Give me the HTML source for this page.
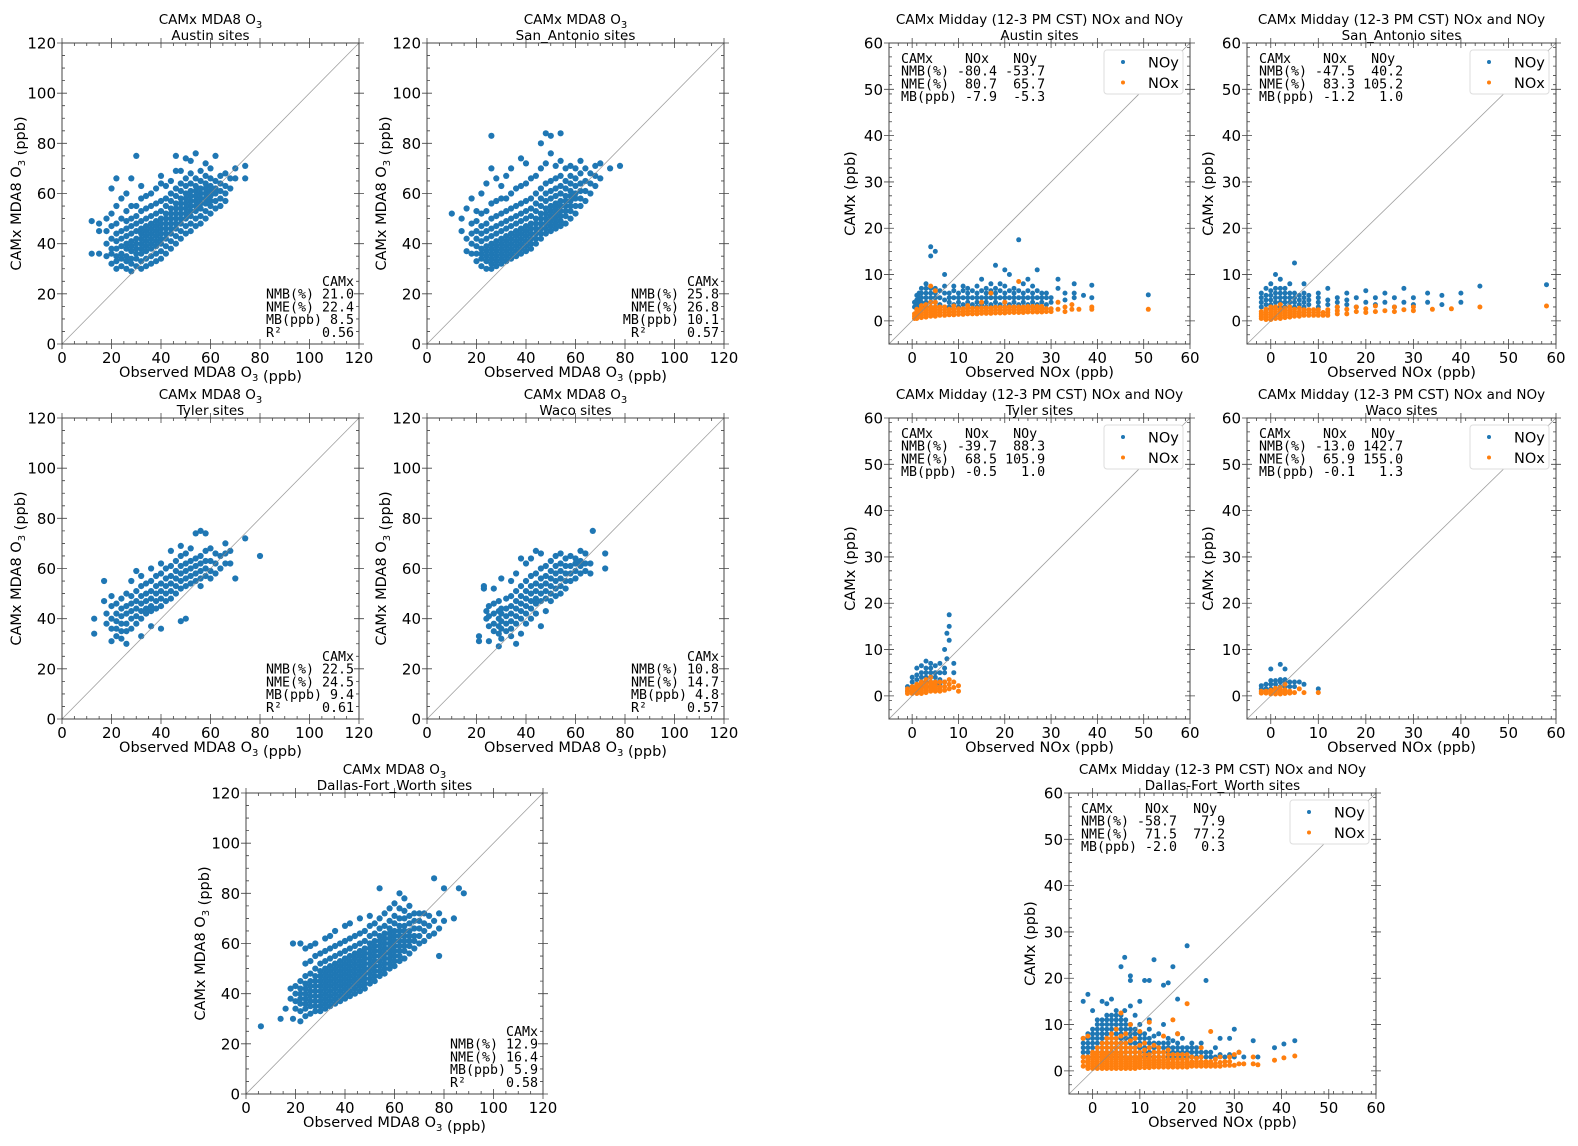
<!DOCTYPE html>
<html><head><meta charset="utf-8">
<style>
html,body{margin:0;padding:0;background:#fff;}
svg{display:block;}
text{font-family:"DejaVu Sans","Liberation Sans",sans-serif;fill:#000;}
.mono{font-family:"DejaVu Sans Mono","Liberation Mono",monospace;white-space:pre;}
</style></head>
<body>
<svg id="fig" width="1578" height="1146" viewBox="0 0 1578 1146" xmlns="http://www.w3.org/2000/svg"></svg>
<script>
// ---- Data: rows "x:y1,y2,...;" (observed x, CAMx y values) ----
const o3Austin = "12:36,49;15:36,45,48;18:35,40,45,50;20:32,36,38,42,47,52,62;22:30,33,35,38,41,44,48,55,66;24:31,34,36,39,42,45,50,58;26:30,33,35,38,40,43,46,49,53,60;28:29,32,34,37,39,41,44,47,50,55,66;30:31,34,36,38,40,42,45,48,51,55,75;32:30,33,36,38,40,42,44,46,49,53,58,63;34:31,34,37,39,41,43,45,47,50,54,59;36:32,35,38,40,42,44,46,48,51,55,60;38:33,36,39,41,43,45,47,49,52,56,62;40:34,37,40,42,44,46,48,50,53,57,64,67;42:36,39,42,44,46,48,50,52,55,58,63;44:38,41,44,46,48,50,52,54,57,60,65;46:40,43,46,48,50,52,54,56,59,62,69,75;48:42,45,48,50,52,54,56,58,61,64,69;50:44,47,50,52,54,56,58,60,63,66,74;52:45,48,51,53,55,57,59,61,64,68,73;54:47,50,53,55,57,59,61,63,66,76;56:48,51,54,56,58,60,62,65,69;58:50,53,56,58,60,62,64,67,72;60:52,55,57,59,61,63,66,70;62:54,57,60,62,65,75;64:55,58,61,64,67;66:57,60,63,68;68:62,66;70:66,70;74:66,71";
const o3SanAntonio = "10:52;14:45,50;16:37,42,54;18:36,40,44,48,58;20:33,36,39,42,45,49,53;22:31,34,36,38,41,44,47,52,60;24:30,33,35,37,39,42,45,48,53,64;26:30,32,34,36,38,40,43,46,50,56,70,83;28:31,33,35,37,39,41,44,47,51,57,66;30:32,34,36,38,40,42,45,48,52,58,63;32:33,35,37,39,41,43,46,49,53,58,67;34:34,36,38,40,42,44,47,50,54,60,70;36:35,37,39,41,43,45,48,51,55,62;38:36,38,40,42,44,46,49,52,56,63,74;40:37,39,41,43,45,47,50,53,57,64,72;42:38,40,42,44,46,48,51,54,58,66;44:40,42,44,46,48,50,53,56,60,67;46:42,44,46,48,50,52,55,58,62,70,80;48:44,46,48,50,52,54,57,60,64,72,84;50:45,47,49,51,53,55,58,61,65,76,83;52:46,48,50,52,54,56,59,62,66,71;54:47,49,51,53,55,57,60,63,67,73,84;56:48,51,53,55,57,59,62,65,70;58:50,53,55,57,59,61,64,67,71;60:52,55,58,60,63,66,70;62:55,58,61,64,68,73;64:57,61,65,70;66:60,64,68;68:63,67,71;70:66,72;74:70;78:71";
const o3Tyler = "13:34,40;17:47,55;18:38,42;20:31,36,40,45,49;22:33,36,39,42,46;24:32,35,38,41,44,48;26:30,35,38,42,45,50;28:36,40,43,46,49,55;30:38,41,44,47,51,59;32:33,40,43,46,49,53,57;34:42,44,47,50,54;36:37,43,45,48,51,55,60;38:44,47,50,53,57;40:36,45,48,51,54,58,62;42:47,50,53,56,60;44:48,51,54,57,61,67;46:50,53,56,59,63;48:39,52,55,58,61,65,69;50:40,53,56,59,62,66;52:54,57,60,63,68;54:55,58,61,64,74;56:53,56,59,62,65,75;58:57,60,63,67,74;60:56,59,63,68;62:58,62,66;64:60,65;66:62,66,70;68:62,67;70:56;74:72;80:65";
const o3Waco = "21:31,33;23:52,53;24:40,43;25:31,37,41,45;27:35,38,42,46,52;29:29,34,37,40,43,47;30:32,36,39,42,44,56;32:35,38,41,44,48;34:33,36,39,42,45,49,55;36:30,38,41,44,47,51,58;38:34,40,43,46,49,53,64;40:38,42,45,48,51,55,62;42:40,44,47,50,53,57,64;44:42,46,48,51,54,58,67;46:37,47,50,53,56,60,66;48:43,48,51,54,57,61;50:47,50,53,56,59,63;52:49,52,55,58,61,65;54:50,53,56,59,62,66;56:52,55,58,61,64;58:55,58,61,65;60:56,59,62,64;62:58,61,63,67;64:59,62,66;66:58,62;67:75;72:60,66";
const o3Dallas = "6:27;14:30;16:34;18:38,42;19:30,60;20:34,37,40,43;22:29,33,36,38,40,42,45,60;24:31,34,36,38,40,42,44,47,52,58;26:32,35,37,39,41,43,45,48,53,59;28:33,35,37,39,41,43,45,47,50,55,60;30:33,35,37,39,41,43,45,47,49,52,56;32:34,36,38,40,42,44,46,48,50,53,57,62;34:35,37,39,41,43,45,47,49,51,54,58,63;36:36,38,40,42,44,46,48,50,52,55,59,65;38:37,39,41,43,45,47,49,51,53,56,60;40:38,40,42,44,46,48,50,52,54,57,61,67;42:39,41,43,45,47,49,51,53,55,58,62,68;44:40,42,44,46,48,50,52,54,56,59,63;46:41,43,45,47,49,51,53,55,57,60,64,70;48:42,44,46,48,50,52,54,56,58,61,65;50:44,46,48,50,52,54,56,58,60,63,67,71;52:45,47,49,51,53,55,57,59,61,64,68;54:47,49,51,53,55,57,59,61,63,66,70,82;56:48,50,52,54,56,58,60,62,64,67,72;58:50,52,54,56,58,60,62,64,66,69,74;60:51,53,55,57,59,61,63,65,68,71,76;62:53,55,57,59,61,63,65,67,70,74,80;64:54,57,59,61,63,65,67,70,73,78;66:56,59,61,63,65,68,71,75;68:58,61,63,66,69,72;70:60,63,66,69,72;72:61,65,68,72;74:63,67,71;76:64,69,86;78:55,66,72;80:69,82;84:70;86:82;88:80";

const noyAustin = "0.5:3,4;1:2.5,3.5,4.5,5.5;1.5:3,4,5,6;2:3,4,5,6,7;3:3,4,5,6,7,8;4:3,4,5,6,7,14,16;5:3,4,5,6,7,15;6:3.5,5,6.5;7:3,4.5,6,7.5,10;8:3,4,5,6;9:3.5,5,6.5,7.5;10:3,4,5,6;11:3.5,5,6.5,7.5;12:3,4,5,6,7;13:3.5,5,6.5;14:3,4,5,6,7.5;15:3.5,5,6.5,9;16:3,4,5,6,7;17:3.5,5,6.5,8;18:3,4,5,6,7,12;19:3.5,5,6.5,8;20:3,4,5,6,7.5,11;21:3.5,5,6.5,10;22:3,4,5,6,7;23:3.5,5,6.5,17.5;24:3,4,5,6,8;25:3.5,5,6.5,9;26:3,4,5,6,7.5;27:3.5,5,6.5,11;28:3,4,5,6;29:3.5,5,6;30:4,5;31.5:7,9;33:4.5,6;35:5,6,8;37:5.5;38.8:5,7.7;51:5.6";
const noxAustin = "0.5:0.5,1,1.5;1:0.5,1,1.5,2,2.5;2:0.7,1.2,1.7,2.2,2.8,3.3;3:0.8,1.3,1.8,2.3,2.8,3.5;4:1,1.5,2,2.5,3,4,7.5;5:1,1.5,2,2.5,3,4,6.5;6:1.2,1.8,2.4,3;7:1.2,1.8,2.4,3;8:1.3,1.9,2.5;9:1.3,1.9,2.5,3.2;10:1.4,2,2.6;11:1.4,2,2.6;12:1.5,2.1,2.7,3.3;13:1.5,2.1,2.7;14:1.5,2.1,2.7;15:1.6,2.2,2.8,4;16:1.6,2.2,2.8;17:1.6,2.2,2.8,6;18:1.7,2.3,2.9;19:1.7,2.3,2.9;20:1.7,2.3,2.9,4;21:1.8,2.4,3;22:1.8,2.4,3;23:1.8,2.4,3,8.5;24:1.8,2.4,3;25:1.9,2.5,3.1;26:1.9,2.5,3.1;27:1.9,2.5,3.1;28:1.9,2.5,3.1;29:2,2.6;30:2,2.6;31.5:2.5,4;33:2,3;34.5:2.5,3.5;36:2.5;38.8:2.5,3;51:2.5";
const noySanAntonio = "-2:3,4,5,6;-1:2.5,3.5,4.5,5.5,7;0:2.5,3.5,4.5,5.5,6.5,8;1:3,4,5,6,7,10;2:3,4,5,6,7,9;3:3,4,5,6,7;4:3,4,5,6,8;5:3,4,5,6,12.5;6:3.5,4.5,5.5;7:3,4,5,6,8;8:3.5,4.5,5.5;10:3,4,5,6;12:3.5,4.5,7;14:3,4,5;16:3.5,4.5,6;18:3,5;20:4,6.5;22:3.5,5;24:4,6;26:3,5;28:4,7;30:3.5,5;33:4,6;36:3.5,5.5;40:4,6;44:7.5;58:7.8";
const noxSanAntonio = "-2:0.5,1,1.5,2;-1:0.3,0.8,1.3,1.8,2.5;0:0.3,0.8,1.3,1.8,2.3,3;1:0.5,1,1.5,2,2.5,3;2:0.5,1,1.5,2,2.5,3.5;3:0.7,1.2,1.7,2.2,2.7;4:0.8,1.3,1.8,2.3,3;5:1,1.5,2,2.5;6:1,1.5,2,2.7;7:1.2,1.8,2.4;8:1.2,1.8,2.4;9:1.2,1.8,2.4;10:1.2,1.8,2.4;11:1.2,1.8;12:1.2,1.8,2.4;14:1.5,2.2,3;16:1.5,2.5;18:2,3;20:1.8,2.6;22:2,3.2;24:2.2;26:2,3;28:2.4;30:2.2,3;34:2.5;38:2.6;44:3;58:3.2";
const noyTyler = "-1:1,2;0:1,2,3,4;1:1.5,2.5,3.5,4.5,6;2:2,3,4,5,6.5;3:2,3,4,5,6,7.5;4:2,3,4,5,6,7;5:2,3,4,5,6.5;6:2.5,3.5,5,7;7:3,5,6,10;7.5:8,13.5;8:15,17.5,12;9:5,7";
const noxTyler = "-1:0.5,1,1.5;0:0.5,1,1.5,2;1:0.5,1,1.5,2,2.5;2:0.5,1,1.5,2,2.5,3;3:0.7,1.2,1.7,2.2,2.7,3.5;4:1,1.5,2,2.5,3,4;5:1,1.5,2,2.5,3;6:1,1.5,2,3;7:1.2,2,3;8:1.5,2.5,3.5;9:1.8,3;10:2.2,1";
const noyWaco = "-2:1.5,2.2;-1:1.5,2.5;0:1.5,2.5,3.3,5.8;1:1.5,2.5,3.3;2:2,3,3.5,6.8;3:2,3,3.5,5.8;4:2,3;5:2,3;6:3;7:2.5;10:1.5";
const noxWaco = "-2:0.6,1;-1:0.6,1;0:0.4,0.8,1.2;1:0.4,0.8,1.2,1.6;2:0.4,0.8,1.2,1.8;3:0.5,0.9,1.3,2.5;4:0.6,1;5:0.7;6:1.5;7:0.7;10:0.7";
const noyDallas = "-2:3,4,5,6,7,15;-1:3,4,5,6,7,8,16.5;0:3,4,5,6,7,8,9,13;1:3,4,5,6,7,8,9,10,11;2:3,4,5,6,7,8,9,10,11,15;3:3,4,5,6,7,8,9,10,11,12,14.5;4:3,4,5,6,7,8,9,10,11,12,15.5;5:3,4,5,6,7,8,9,10,11,12,13;6:3,4,5,6,7,8,9,10,11,12,22.5;6.8:24.5,13;7:3,4,5,6,7,8,9,10,11;8:3,4,5,6,7,8,9,10,14,20.5,19.5;9:3,4,5,6,7,8,9,12;10:3,4,5,6,7,8,10,15;11:3,4,5,6,7,8,19.5;12:3,4,5,6,7,9,19.5,11;13:3,4,5,6,7.5,24;14:3,4,5,6,8;15:3,4,5,6,18.5,10;16:3,4,5,6,7,19;17:3,4,5,6.5,22.5;18:3,4,5,6,8,15.5;19:3,4,5,7;20:3,4,5,27;21:3,4,5,6;22:3,4,5;23:3,4,6;24:3,4,19.5;25:3,4;26:3,5;27:3.5,7;28:3;29:3.5,7;30:3,9;31:4;32:3;34:6.5;35:3;38.5:5;40.5:5.8;42.8:6.5";
const noxDallas = "-2:1,2,3,7;-1:0.5,1,1.5,2,2.5,3,7.5;0:0.5,1,1.5,2,2.5,3,3.5,4;1:0.5,1,1.5,2,2.5,3,3.5,4,5;2:0.5,1,1.5,2,2.5,3,3.5,4,5,6;3:0.5,1,1.5,2,2.5,3,3.5,4,5,6,7;4:0.5,1,1.5,2,2.5,3,3.5,4,5,6,7,8;5:0.5,1,1.5,2,2.5,3,3.5,4,5,6,7,9;6:0.5,1,1.5,2,2.5,3,3.5,4,5,6,7.5,12.5;7:0.5,1,1.5,2,2.5,3,4,5,6,8;8:0.5,1,1.5,2,2.5,3,4,5,6.5,10;9:0.5,1,1.5,2,2.5,3,4,5,7;10:0.7,1.2,1.7,2.2,2.7,3.2,4,5.5,8.5;11:0.7,1.2,1.7,2.2,2.7,3.5,4.5,6;12:0.7,1.2,1.7,2.2,2.7,3.5,5,10.5;13:0.8,1.3,1.8,2.3,3,4,5.5;14:0.8,1.3,1.8,2.3,3,4,5;15:0.8,1.3,1.8,2.3,3,4,7.5;16:0.8,1.3,1.8,2.5,3.5,4.5;17:0.8,1.3,1.8,2.5,3.5,11;18:0.8,1.3,1.8,2.5,3.5,8;19:0.8,1.3,1.8,2.5,3.5;20:0.8,1.3,1.8,2.5,3.5,14.5;21:1,1.5,2,3;22:1,1.5,2,2.7;23:1,1.5,2,3,5;24:1,1.5,2;25:1,1.5,2,8.5;26:1,1.5,2.5;27:1,1.8,3;28:1.2,2;29:1.2,2,3;30:1.2,3.5;31:1.5,4;32:1.5;34:1.5,3;35:1.3;38.5:2.3;40.5:2.8;42.8:3.2";

// stats
const o3Stats = {
  austin:["21.0","22.4","8.5","0.56"], sanantonio:["25.8","26.8","10.1","0.57"],
  tyler:["22.5","24.5","9.4","0.61"], waco:["10.8","14.7","4.8","0.57"], dallas:["12.9","16.4","5.9","0.58"]
};
const noxStatsNMB = {austin:["-80.4","-53.7"],sanantonio:["-47.5","40.2"],tyler:["-39.7","88.3"],waco:["-13.0","142.7"],dallas:["-58.7","7.9"]};
const noxStatsNME = {austin:["80.7","65.7"],sanantonio:["83.3","105.2"],tyler:["68.5","105.9"],waco:["65.9","155.0"],dallas:["71.5","77.2"]};
const noxStatsMB = {austin:["-7.9","-5.3"],sanantonio:["-1.2","1.0"],tyler:["-0.5","1.0"],waco:["-0.1","1.3"],dallas:["-2.0","0.3"]};
const o3Ticks = [0,20,40,60,80,100,120];
const noxTicks = [0,10,20,30,40,50,60];

const NS="http://www.w3.org/2000/svg";
const fig=document.getElementById('fig');
const BLUE="#1f77b4", ORANGE="#ff7f0e";
function mk(tag,attrs,parent){const e=document.createElementNS(NS,tag);for(const k in attrs)e.setAttribute(k,attrs[k]);(parent||fig).appendChild(e);return e;}
function parse(s){const pts=[];s.split(';').forEach(r=>{const [x,ys]=r.split(':');ys.split(',').forEach(y=>pts.push([+x,+y]));});return pts;}
function pad(s,n){while(s.length<n)s=' '+s;return s;}

function panel(cfg){
  const g=mk('g',{});
  
  
  const {L,R,T,B,xmin,xmax,ymin,ymax}=cfg;
  const sx=v=>L+(v-xmin)/(xmax-xmin)*(R-L);
  const sy=v=>B-(v-ymin)/(ymax-ymin)*(B-T);
  cfg.series.forEach(ser=>{
    const sg=mk('g',{fill:ser.color},g);
    
    
    parse(ser.data).forEach(p=>{
      const c=mk('circle',{cx:sx(p[0]).toFixed(1),cy:sy(p[1]).toFixed(1),r:cfg.r},sg);
      
      
    });
  });
  const lo=Math.max(xmin,ymin), hi=Math.min(xmax,ymax);
  const ln=mk('line',{x1:sx(lo),y1:sy(lo),x2:sx(hi),y2:sy(hi),stroke:'#888','stroke-width':0.8,opacity:0.8},g);
  
  
  const fr=mk('rect',{x:L,y:T,width:R-L,height:B-T,fill:'none',stroke:'#444','stroke-width':1},g);
  
  
  let tk='';
  for(let v=xmin;v<=xmax+1e-6;v+=cfg.minor){const x=sx(v);tk+=`M${x},${B}v-3M${x},${T}v3`;}
  for(let v=ymin;v<=ymax+1e-6;v+=cfg.minor){const y=sy(v);tk+=`M${L},${y}h3M${R},${y}h-3`;}
  cfg.ticks.forEach(v=>{const x=sx(v),y=sy(v);tk+=`M${x},${B-5}v10M${x},${T-5}v10M${L-5},${y}h10M${R-5},${y}h10`;});
  mk('path',{d:tk,stroke:'#444','stroke-width':0.8,fill:'none'},g);
  cfg.ticks.forEach(v=>{
    const t=mk('text',{x:sx(v),y:B+19,'text-anchor':'middle','font-size':15},g);t.textContent=v;
    
    const u=mk('text',{x:L-6,y:sy(v)+5.5,'text-anchor':'end','font-size':15},g);u.textContent=v;
    
  });
  const cx=(L+R)/2;
  const t1=mk('text',{x:cx,y:T-19,'text-anchor':'middle','font-size':13.5},g);
  t1.innerHTML=cfg.title1;
  
  const t2=mk('text',{x:cx,y:T-3,'text-anchor':'middle','font-size':13.5},g);
  t2.textContent=cfg.title2;
  
  const xl=mk('text',{x:cx,y:B+33,'text-anchor':'middle','font-size':14.5},g);
  xl.innerHTML=cfg.xlabel;
  
  const yx=L-cfg.ylOff, yy=(T+B)/2;
  const yl=mk('text',{x:yx,y:yy,'text-anchor':'middle','font-size':14.5,transform:`rotate(-90 ${yx} ${yy})`},g);
  yl.innerHTML=cfg.ylabel;
  
  return {g,sx,sy};
}
const SUB3='O<tspan font-size="10" dy="4">3</tspan><tspan dy="-4"></tspan>';

function o3Panel(key,site,L,T){
  const R=L+297,B=T+301;
  const p=panel({name:'o3-scatter-'+key,L,R,T,B,xmin:0,xmax:120,ymin:0,ymax:120,minor:5,ticks:o3Ticks,r:3.1,
    title1:'CAMx MDA8 '+SUB3,title2:site+' sites',xlabel:'Observed MDA8 '+SUB3+' (ppb)',ylabel:'CAMx MDA8 '+SUB3+' (ppb)',ylOff:41,
    series:[{label:'o3',color:BLUE,data:{austin:o3Austin,sanantonio:o3SanAntonio,tyler:o3Tyler,waco:o3Waco,dallas:o3Dallas}[key]}]});
  const s=o3Stats[key];
  const lines=['CAMx','NMB(%) '+s[0],'NME(%) '+s[1],'MB(ppb) '+s[2],'R\u00B2     '+pad(s[3],4)];
  const st=mk('text',{'class':'mono','font-size':13.3},p.g);
  
  lines.forEach((l,i)=>{const ts=mk('tspan',{x:R-5,y:B-58+i*12.7,'text-anchor':'end'},st);ts.textContent=l;});
}
function noxPanel(key,site,L,R,T){
  const B=T+301;
  const p=panel({name:'nox-scatter-'+key,L,R,T,B,xmin:-5,xmax:60,ymin:-5,ymax:60,minor:2,ticks:noxTicks,r:2.5,
    title1:'CAMx Midday (12-3 PM CST) NOx and NOy',title2:site+' sites',xlabel:'Observed NOx (ppb)',ylabel:'CAMx (ppb)',ylOff:34,
    series:[{label:'noy',color:BLUE,data:{austin:noyAustin,sanantonio:noySanAntonio,tyler:noyTyler,waco:noyWaco,dallas:noyDallas}[key]},
            {label:'nox',color:ORANGE,data:{austin:noxAustin,sanantonio:noxSanAntonio,tyler:noxTyler,waco:noxWaco,dallas:noxDallas}[key]}]});
  const a=noxStatsNMB[key],b=noxStatsNME[key],c=noxStatsMB[key];
  const lines=['CAMx    NOx   NOy','NMB(%) '+pad(a[0],5)+' '+pad(a[1],5),'NME(%) '+pad(b[0],5)+' '+pad(b[1],5),'MB(ppb) '+pad(c[0],4)+' '+pad(c[1],5)];
  const st=mk('text',{'class':'mono','font-size':13.3},p.g);
  
  lines.forEach((l,i)=>{const ts=mk('tspan',{x:L+12,y:T+20+i*12.7},st);ts.textContent=l;});
  const lg=mk('g',{},p.g);
  
  const lx=R-86;
  mk('rect',{x:lx,y:T+7,width:79,height:44,rx:3,fill:'#fff',stroke:'#ddd'},lg);
  [['NOy',BLUE],['NOx',ORANGE]].forEach((e,i)=>{
    const y=T+19+i*20.5;
    const d=mk('circle',{cx:lx+19,cy:y,r:2,fill:e[1]},lg);
    
    const t=mk('text',{x:lx+44,y:y+5.5,'font-size':14.5},lg);t.textContent=e[0];
    
  });
}
o3Panel('austin','Austin',62,43);
o3Panel('sanantonio','San_Antonio',427,43);
o3Panel('tyler','Tyler',62,418);
o3Panel('waco','Waco',427,418);
o3Panel('dallas','Dallas-Fort_Worth',246,793);
noxPanel('austin','Austin',889,1190,43);
noxPanel('sanantonio','San_Antonio',1247,1556,43);
noxPanel('tyler','Tyler',889,1190,418);
noxPanel('waco','Waco',1247,1556,418);
noxPanel('dallas','Dallas-Fort_Worth',1069,1376,793);
</script>
</body></html>
